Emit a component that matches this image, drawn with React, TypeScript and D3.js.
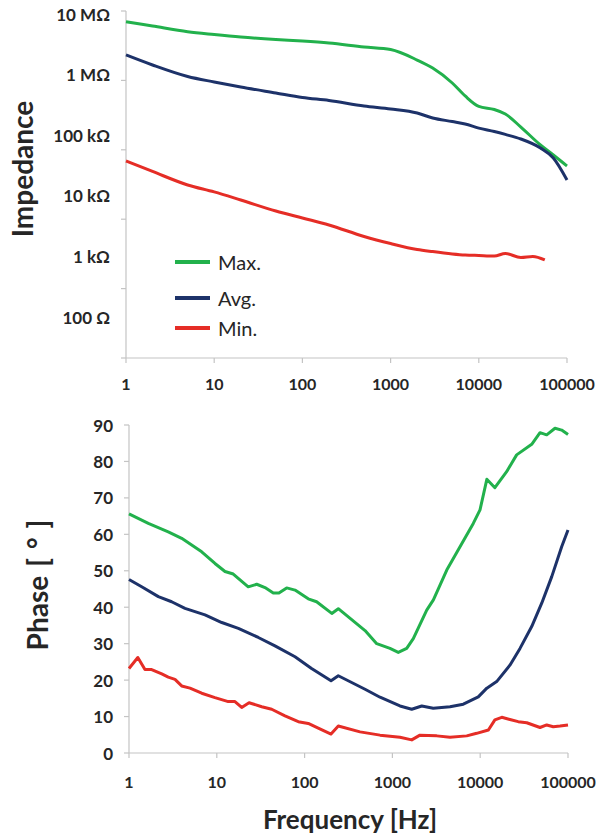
import React from 'react';
import * as d3 from 'd3';

// ---------- data ----------
const freqTicks = [1, 10, 100, 1000, 10000, 100000];
const impTickValues = [1e7, 1e6, 1e5, 1e4, 1e3, 100];
const impTickLabels = ['10 MΩ', '1 MΩ', '100 kΩ', '10 kΩ', '1 kΩ', '100 Ω'];
const phaseTicks = [0, 10, 20, 30, 40, 50, 60, 70, 80, 90];

const seriesNames = ['Max.', 'Avg.', 'Min.'];
const seriesColors = ['#22b14c', '#1d3269', '#e52d26'];

const impFreq = [1, 2, 5, 10, 20, 50, 100, 200, 500, 1000, 2000, 3000, 5000, 7000, 10000, 15000, 20000, 30000, 50000, 70000, 100000];
const impMax = [7.46e6, 6.34e6, 5.11e6, 4.59e6, 4.17e6, 3.79e6, 3.58e6, 3.32e6, 2.85e6, 2.59e6, 1.74e6, 1.28e6, 727e3, 444e3, 298e3, 265e3, 224e3, 136e3, 68.9e3, 47.1e3, 31e3];
const impAvg = [2.11e6, 1.44e6, 930e3, 755e3, 624e3, 497e3, 419e3, 374e3, 303e3, 271e3, 232e3, 192e3, 168e3, 153e3, 131e3, 115e3, 103e3, 86.5e3, 61.5e3, 42e3, 18.2e3];
const impMinFreq = [1, 2, 5, 10, 20, 50, 100, 200, 500, 1000, 2000, 3000, 5000, 7000, 10000, 15000, 20000, 30000, 41000, 56000];
const impMin = [37.5e3, 25.2e3, 15.1e3, 11.6e3, 8.53e3, 5.61e3, 4.3e3, 3.3e3, 2.13e3, 1.63e3, 1.3e3, 1.2e3, 1.1e3, 1055, 1035, 1016, 1117, 959, 996, 873];

const phaseMaxFreq = [1, 1.66, 2.8, 3.98, 6.73, 9.53, 12.4, 15.4, 22.8, 28.5, 35.4, 44, 51, 62.5, 77.8, 110, 137, 204, 242, 488, 663, 939, 1167, 1455, 1730, 2460, 2930, 4160, 5890, 8340, 9950, 11900, 14700, 20000, 26000, 38600, 48000, 57200, 71100, 84700, 100000];
const phaseMax = [65.6, 63.0, 60.7, 58.9, 55.2, 52.0, 49.8, 49.1, 45.6, 46.3, 45.4, 43.9, 43.9, 45.3, 44.7, 42.3, 41.5, 38.3, 39.6, 33.6, 30.0, 28.7, 27.6, 28.7, 31.4, 39.2, 42.0, 50.2, 56.6, 63.0, 66.7, 75.1, 72.8, 77.2, 81.8, 84.7, 87.9, 87.3, 89.1, 88.6, 87.4];
const phaseAvgFreq = [1, 1.395, 2.16, 3.06, 4.34, 7.34, 11.4, 17.6, 29.7, 46, 77.8, 120, 200, 242, 488, 723, 1220, 1660, 2160, 2920, 4530, 6420, 9510, 11900, 15400, 21800, 28400, 38600, 50200, 65300, 84700, 100000];
const phaseAvg = [47.6, 45.6, 42.9, 41.5, 39.7, 37.9, 35.8, 34.2, 31.7, 29.4, 26.4, 23.2, 19.8, 21.2, 17.5, 15.3, 12.9, 12.0, 12.9, 12.3, 12.7, 13.4, 15.4, 17.8, 19.6, 24.1, 28.7, 34.7, 41.1, 48.4, 56.6, 61.2];
const phaseMinFreq = [1, 1.26, 1.52, 1.81, 2.36, 2.8, 3.34, 3.98, 4.95, 6.73, 9.53, 13.5, 16.1, 19.2, 23.3, 32.5, 42.2, 59.8, 84.8, 110, 143, 200, 242, 428, 723, 1220, 1660, 2060, 3200, 4530, 7020, 9120, 12400, 14700, 17600, 21800, 27100, 33900, 48000, 57200, 68000, 81100, 100000];
const phaseMin = [23.2, 26.2, 22.9, 22.9, 21.7, 20.8, 20.2, 18.4, 17.8, 16.4, 15.2, 14.1, 14.1, 12.5, 13.8, 12.7, 12.0, 10.2, 8.6, 8.1, 6.8, 5.2, 7.4, 5.8, 4.9, 4.3, 3.6, 4.9, 4.7, 4.3, 4.7, 5.4, 6.3, 9.1, 9.8, 9.2, 8.6, 8.3, 7.0, 7.7, 7.2, 7.4, 7.7];

// ---------- layout ----------
const W = 605;
const H = 838;
const FONT = 'Lato, "Open Sans", sans-serif';
const TXT = '#262626';
const AXIS = '#c4c4c4';

const zip = (xs: number[], ys: number[]) => xs.map((x, i) => [x, ys[i]] as [number, number]);

export default function App() {
  // top chart
  const xTop = d3.scaleLog().domain([1, 100000]).range([126, 567]);
  const yImp = d3.scaleLog().domain([100, 1e7]).range([317, 14]);
  const topAxisY = 358;
  const topAxisTop = 11;
  const topTickPos = d3.range(6).map((i) => d3.scaleLinear().domain([0, 5]).range([topAxisTop, topAxisY])(i));

  // bottom chart
  const xBot = d3.scaleLog().domain([1, 100000]).range([129, 568]);
  const yPh = d3.scaleLinear().domain([0, 90]).range([753, 425]);

  const impSeries = [zip(impFreq, impMax), zip(impFreq, impAvg), zip(impMinFreq, impMin)];
  const phSeries = [zip(phaseMaxFreq, phaseMax), zip(phaseAvgFreq, phaseAvg), zip(phaseMinFreq, phaseMin)];

  const impLine = d3.line<[number, number]>().x((d) => xTop(d[0])).y((d) => yImp(d[1])).curve(d3.curveMonotoneX);
  const phLine = d3.line<[number, number]>().x((d) => xBot(d[0])).y((d) => yPh(d[1])).curve(d3.curveLinear);

  const legendY = [262, 298, 328];

  return (
    <svg width={W} height={H} style={{ position: 'absolute', left: 0, top: 0, background: '#fff' }} fontFamily={FONT}>
      <rect width={W} height={H} fill="#fff" />
      {/* ---------- top chart ---------- */}
      <line x1={xTop(1)} x2={xTop(1)} y1={topAxisTop} y2={topAxisY} stroke={AXIS} strokeWidth={1.2} />
      <line x1={xTop(1)} x2={xTop(100000)} y1={topAxisY} y2={topAxisY} stroke={AXIS} strokeWidth={1.2} />
      {topTickPos.map((y, i) => (
        <line key={'tt' + i} x1={xTop(1) - 5} x2={xTop(1)} y1={y} y2={y} stroke={AXIS} strokeWidth={1.2} />
      ))}
      {freqTicks.map((f) => (
        <g key={'tx' + f}>
          <line x1={xTop(f)} x2={xTop(f)} y1={topAxisY} y2={topAxisY + 5} stroke={AXIS} strokeWidth={1.2} />
          <text x={xTop(f)} y={383} textAnchor="middle" dominantBaseline="central" fontSize={16} fontWeight={700} fill={TXT}>{f}</text>
        </g>
      ))}
      {impTickValues.map((v, i) => (
        <text key={'il' + i} x={110} y={yImp(v)} textAnchor="end" dominantBaseline="central" fontSize={17} fontWeight={700} fill={TXT}>{impTickLabels[i]}</text>
      ))}
      <text transform={`translate(33,169) rotate(-90)`} textAnchor="middle" fontSize={28} fontWeight={700} fill={TXT}>Impedance</text>
      {impSeries.map((s, i) => (
        <path key={'is' + i} d={impLine(s) || ''} fill="none" stroke={seriesColors[i]} strokeWidth={3} strokeLinejoin="round" />
      ))}
      {seriesNames.map((n, i) => (
        <g key={'lg' + n}>
          <line x1={175} x2={210} y1={legendY[i]} y2={legendY[i]} stroke={seriesColors[i]} strokeWidth={4} />
          <text x={218} y={legendY[i]} dominantBaseline="central" fontSize={20} fill={TXT}>{n}</text>
        </g>
      ))}

      {/* ---------- bottom chart ---------- */}
      <line x1={xBot(1)} x2={xBot(1)} y1={yPh(90)} y2={yPh(0)} stroke={AXIS} strokeWidth={1.2} />
      <line x1={xBot(1)} x2={xBot(100000)} y1={yPh(0)} y2={yPh(0)} stroke={AXIS} strokeWidth={1.2} />
      {phaseTicks.map((t) => (
        <g key={'pt' + t}>
          <line x1={xBot(1) - 5} x2={xBot(1)} y1={yPh(t)} y2={yPh(t)} stroke={AXIS} strokeWidth={1.2} />
          <text x={113} y={yPh(t)} textAnchor="end" dominantBaseline="central" fontSize={17} fontWeight={700} fill={TXT}>{t}</text>
        </g>
      ))}
      {freqTicks.map((f) => (
        <g key={'bx' + f}>
          <line x1={xBot(f)} x2={xBot(f)} y1={yPh(0)} y2={yPh(0) + 5} stroke={AXIS} strokeWidth={1.2} />
          <text x={xBot(f)} y={781} textAnchor="middle" dominantBaseline="central" fontSize={16} fontWeight={700} fill={TXT}>{f}</text>
        </g>
      ))}
      <text transform={`translate(48,585) rotate(-90)`} textAnchor="middle" fontSize={28} fontWeight={700} fill={TXT}>
        Phase<tspan dx={9}>[</tspan><tspan dx={9} fontSize={28}>°</tspan><tspan dx={9}>]</tspan>
      </text>
      {phSeries.map((s, i) => (
        <path key={'ps' + i} d={phLine(s) || ''} fill="none" stroke={seriesColors[i]} strokeWidth={3} strokeLinejoin="round" />
      ))}
      <text x={350} y={829} textAnchor="middle" fontSize={26} fontWeight={700} fill={TXT}>Frequency [Hz]</text>
    </svg>
  );
}
